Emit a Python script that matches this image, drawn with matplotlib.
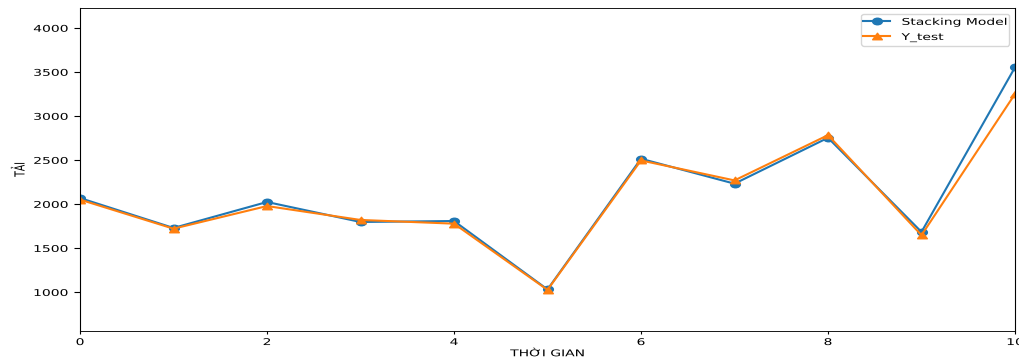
import matplotlib
matplotlib.use("Agg")
import matplotlib.pyplot as plt
from matplotlib.patheffects import AbstractPathEffect
from matplotlib.transforms import Affine2D
from matplotlib.path import Path
import numpy as np

x_vals = list(range(11))
stacking = [2068, 1728, 2023, 1796, 1807, 1030, 2514, 2231, 2752, 1683, 3552]
y_test = [2050, 1720, 1977, 1819, 1777, 1025, 2495, 2268, 2782, 1646, 3250]
x_ticks = [0, 2, 4, 6, 8, 10]
y_ticks = [1000, 1500, 2000, 2500, 3000, 3500, 4000]

SQ = 0.67  # vertical squash of the reference rendering


class Squash(AbstractPathEffect):
    """Scale glyphs in their local frame about a pivot (path units)."""
    def __init__(self, sx=1.0, sy=1.0, cx=0.0, cy=0.0):
        super().__init__()
        self._t = Affine2D().translate(-cx, -cy).scale(sx, sy).translate(cx, cy)

    def draw_path(self, renderer, gc, tpath, affine, rgbFace=None):
        renderer.draw_path(gc, tpath, self._t + affine, rgbFace)


# squashed markers
circ = Path.unit_circle()
ellipse = Path(circ.vertices * np.array([1.0, SQ]), circ.codes)
tri = Path([[0, SQ], [-1, -SQ], [1, -SQ], [0, SQ]],
           [Path.MOVETO, Path.LINETO, Path.LINETO, Path.CLOSEPOLY])

fig = plt.figure(figsize=(10.19, 3.62), dpi=100)
ax = fig.add_axes([80/1019, 31/362, 935/1019, 323/362])
ax.plot(x_vals, stacking, marker=ellipse, markersize=7, label='Stacking Model')
ax.plot(x_vals, y_test, marker=tri, markersize=7, label='Y_test')
ax.set_xlim(0, 10)
ax.set_ylim(558, 4226)
ax.set_xticks(x_ticks)
ax.set_yticks(y_ticks)
ax.tick_params(axis='x', length=3.5 * SQ, pad=3.5 * SQ)
ax.tick_params(axis='y', length=4.5, pad=4.0)
for side in ('top', 'bottom'):
    ax.spines[side].set_linewidth(0.8 * SQ + 0.1)

xl = ax.set_xlabel('THỜI GIAN', labelpad=-2)
yl = ax.set_ylabel('TẢI')
xl.set_path_effects([Squash(sy=SQ, cy=76)])
yl.set_path_effects([Squash(sx=SQ, cx=80)])

for t in ax.get_xticklabels():
    t.set_path_effects([Squash(sy=SQ, cy=76)])
for t in ax.get_yticklabels():
    t.set_path_effects([Squash(sy=SQ, cy=36)])

leg = ax.legend(loc='upper right', labelspacing=0.08, borderpad=0.12,
                borderaxespad=0.4)
for t in leg.get_texts():
    t.set_path_effects([Squash(sy=SQ, cy=30)])

fig.savefig('out.png', dpi=100)
